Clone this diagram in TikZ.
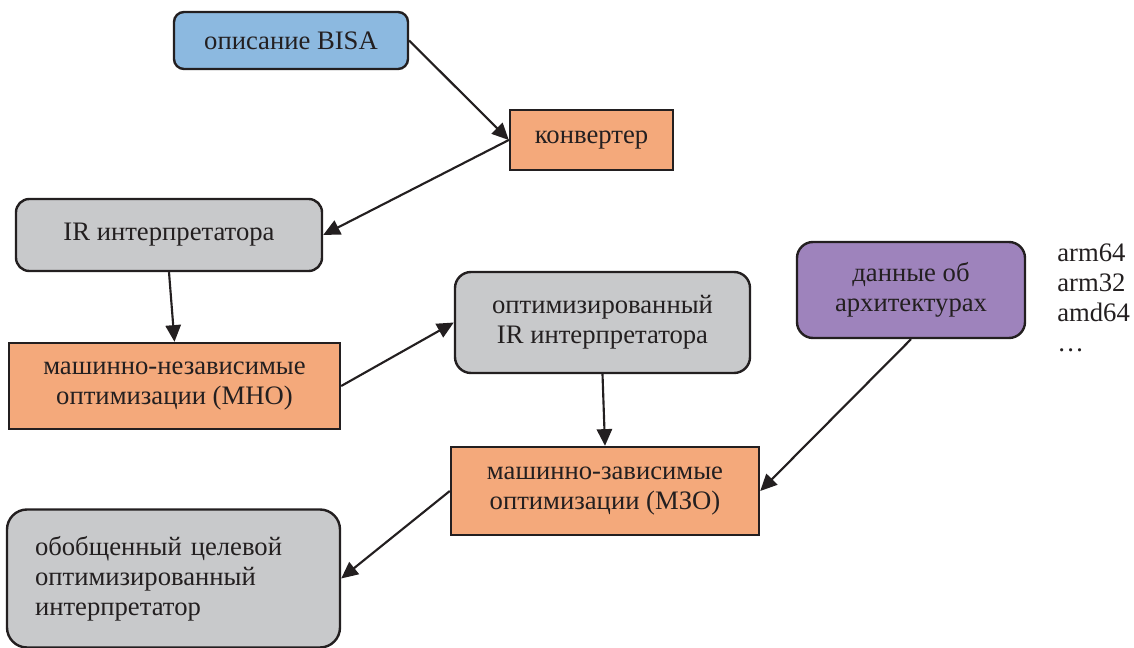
\documentclass[tikz,border=0pt]{standalone}
\usepackage{fontspec}
\setmainfont{Liberation Serif}
\usetikzlibrary{arrows.meta}
\definecolor{cblue}{HTML}{8CB9E0}
\definecolor{corange}{HTML}{F4A97B}
\definecolor{cgray}{HTML}{C8C9CB}
\definecolor{cpurple}{HTML}{9E83BC}
\definecolor{cink}{HTML}{231F20}
\tikzset{
  box/.style={draw=cink, line width=1.8pt, text=cink, align=center, inner sep=0pt,
    font=\fontsize{20}{22.5}\selectfont},
  rbox/.style={box, rounded corners=#1},
  conn/.style={draw=cink, line width=1.6pt, -{Triangle[length=12.5pt,width=11.5pt]}},
}
\begin{document}
\begin{tikzpicture}[x=0.75pt,y=-0.75pt]
\useasboundingbox (0,0) rectangle (1134,648);
\node[rbox=7.5pt, fill=cblue, minimum width=175.5pt, minimum height=42.75pt] (bisa) at (291,40.5) {описание BISA};
\node[box, fill=corange, minimum width=122.25pt, minimum height=45pt] (conv) at (591.5,140) {конвертер};
\node[rbox=10pt, fill=cgray, minimum width=229.5pt, minimum height=54pt] (ir) at (169,235) {IR интерпретатора};
\node[box, fill=corange, minimum width=248.25pt, minimum height=64.5pt] (mno) at (174.5,386) {машинно-независимые\\оптимизации (МНО)};
\node[rbox=12pt, fill=cgray, minimum width=221.25pt, minimum height=75.75pt] (oir) at (602.5,322.5) {оптимизированный\\IR интерпретатора};
\node[rbox=12pt, fill=cpurple, minimum width=171pt, minimum height=72pt] (arch) at (911,290) {данные об\\архитектурах};
\node[box, fill=corange, minimum width=231pt, minimum height=66pt] (mzo) at (605,491) {машинно-зависимые\\оптимизации (МЗО)};
\node[rbox=15pt, fill=cgray, minimum width=249.75pt, minimum height=103.5pt, text width=207.75pt, align=left] (gen) at (173.5,578.5) {обобщенный целевой\\оптимизированный\\интерпретатор};
\node[anchor=north west, align=left, inner sep=0pt, text=cink, font=\fontsize{20}{22.5}\selectfont] (list) at (1057,243.5) {arm64\\arm32\\amd64\\…};
\draw[conn] (bisa.east) -- (conv.west);
\draw[conn] (conv.west) -- (ir.east);
\draw[conn] (ir.south) -- (mno.north);
\draw[conn] (mno.east) -- (oir.west);
\draw[conn] (oir.south) -- (mzo.north);
\draw[conn] (arch.south) -- (mzo.east);
\draw[conn] (mzo.west) -- (gen.east);
\end{tikzpicture}
\end{document}
